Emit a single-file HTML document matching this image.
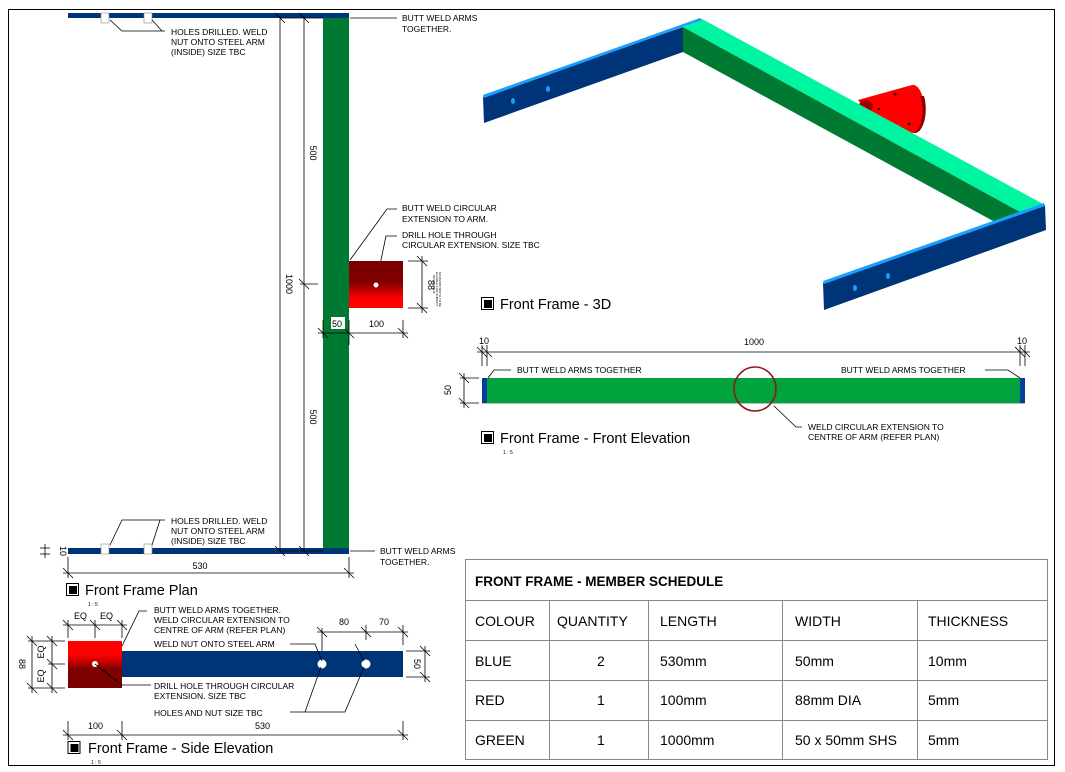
<!DOCTYPE html>
<html><head><meta charset="utf-8"><style>
html,body{margin:0;padding:0;background:#fff}
svg{display:block}
text{font-family:"Liberation Sans",Arial,sans-serif;fill:#000}
.s{font-size:8.5px}
.t{font-size:14.5px}
.d{font-size:9px}
.tb{font-size:14px}
</style></head><body>
<svg width="1065" height="772" viewBox="0 0 1065 772" xmlns="http://www.w3.org/2000/svg">
<defs>
<linearGradient id="rg1" x1="0" y1="0" x2="0" y2="1"><stop offset="0" stop-color="#7a0000"/><stop offset="0.45" stop-color="#800000"/><stop offset="0.8" stop-color="#ff0000"/><stop offset="1" stop-color="#ff0000"/></linearGradient>
<linearGradient id="rg2" x1="0" y1="0" x2="0" y2="1"><stop offset="0" stop-color="#ff0000"/><stop offset="0.3" stop-color="#ff0000"/><stop offset="0.6" stop-color="#800000"/><stop offset="1" stop-color="#7a0000"/></linearGradient>
</defs>
<rect x="8.5" y="9.5" width="1046" height="756" fill="none" stroke="#000" stroke-width="1"/>

<!-- PLAN -->
<rect x="68" y="13" width="281" height="5" fill="#003478"/>
<rect x="323" y="18" width="26" height="531" fill="#007a33"/>
<rect x="68" y="548" width="281" height="6" fill="#003478"/>
<rect x="101" y="13" width="8" height="10" fill="#fff" stroke="#888" stroke-width="0.6"/>
<rect x="144" y="13" width="8" height="10" fill="#fff" stroke="#888" stroke-width="0.6"/>
<rect x="101" y="544" width="8" height="10" fill="#fff" stroke="#888" stroke-width="0.6"/>
<rect x="144" y="544" width="8" height="10" fill="#fff" stroke="#888" stroke-width="0.6"/>
<g stroke="#000" stroke-width="0.8" fill="none">
<polyline points="110,20 122,31 165,31"/><line x1="152" y1="20" x2="162" y2="31"/>
<polyline points="110,545 122,520 165,520"/><line x1="152" y1="545" x2="160" y2="520"/>
<line x1="350" y1="18" x2="397" y2="18"/>
<line x1="350" y1="551" x2="375" y2="551"/>
<line x1="280" y1="16" x2="280" y2="551"/>
<line x1="304" y1="16" x2="304" y2="551"/>
<line x1="280" y1="18" x2="323" y2="18"/>
<line x1="280" y1="551" x2="323" y2="551"/>
<line x1="300" y1="284" x2="318" y2="284"/>
<line x1="275" y1="13" x2="285" y2="23"/><line x1="299" y1="13" x2="309" y2="23"/>
<line x1="275" y1="546" x2="285" y2="556"/><line x1="299" y1="546" x2="309" y2="556"/>
<line x1="299" y1="279" x2="309" y2="289"/>
<polyline points="350,260 387,209 397,209"/>
<polyline points="376,284 386,236 397,236"/>
<line x1="408" y1="261" x2="428" y2="261"/><line x1="408" y1="308" x2="428" y2="308"/>
<line x1="422" y1="256" x2="422" y2="313"/>
<line x1="417" y1="256" x2="427" y2="266"/><line x1="417" y1="303" x2="427" y2="313"/>
<line x1="323" y1="320" x2="323" y2="338"/><line x1="349" y1="320" x2="349" y2="345"/><line x1="403" y1="320" x2="403" y2="338"/>
<line x1="318" y1="333" x2="408" y2="333"/>
<line x1="318" y1="328" x2="328" y2="338"/><line x1="344" y1="328" x2="354" y2="338"/><line x1="398" y1="328" x2="408" y2="338"/>
<line x1="68" y1="557" x2="68" y2="578"/><line x1="349" y1="557" x2="349" y2="578"/>
<line x1="63" y1="573" x2="354" y2="573"/>
<line x1="63" y1="568" x2="73" y2="578"/><line x1="344" y1="568" x2="354" y2="578"/>
<line x1="40" y1="548" x2="50" y2="548"/><line x1="40" y1="554" x2="50" y2="554"/><line x1="45" y1="544" x2="45" y2="558"/>
</g>
<rect x="349" y="261" width="54" height="47" fill="url(#rg1)"/>
<circle cx="376" cy="285" r="2.5" fill="#fff"/>
<rect x="331" y="317" width="14" height="12" fill="#fff"/>
<text class="d" x="332" y="327">50</text>
<text class="d" x="369" y="327">100</text>
<text class="d" transform="translate(310,153) rotate(90)" text-anchor="middle">500</text>
<text class="d" transform="translate(310,417) rotate(90)" text-anchor="middle">500</text>
<text class="d" transform="translate(286,284) rotate(90)" text-anchor="middle">1000</text>
<text class="d" transform="translate(428,285) rotate(90)" text-anchor="middle">88</text>
<text style="font-size:3px" transform="translate(439,272) rotate(90)">MAXIMUM WIDTH TO BE</text>
<text style="font-size:3px" transform="translate(436,272) rotate(90)">ELIGIBLE FOR SUBSIDY</text>
<text style="font-size:3px" transform="translate(433,275) rotate(90)">DESIGN CHK</text>
<text class="d" transform="translate(60,551) rotate(90)" text-anchor="middle">10</text>
<text class="d" x="200" y="569" text-anchor="middle">530</text>
<text class="s" x="171" y="35">HOLES DRILLED. WELD</text>
<text class="s" x="171" y="45">NUT ONTO STEEL ARM</text>
<text class="s" x="171" y="55">(INSIDE) SIZE TBC</text>
<text class="s" x="171" y="524">HOLES DRILLED. WELD</text>
<text class="s" x="171" y="534">NUT ONTO STEEL ARM</text>
<text class="s" x="171" y="544">(INSIDE) SIZE TBC</text>
<text class="s" x="402" y="21">BUTT WELD ARMS</text>
<text class="s" x="402" y="32">TOGETHER.</text>
<text class="s" x="380" y="554">BUTT WELD ARMS</text>
<text class="s" x="380" y="565">TOGETHER.</text>
<text class="s" x="402" y="211">BUTT WELD CIRCULAR</text>
<text class="s" x="402" y="222">EXTENSION TO ARM.</text>
<text class="s" x="402" y="238">DRILL HOLE THROUGH</text>
<text class="s" x="402" y="248">CIRCULAR EXTENSION. SIZE TBC</text>

<g fill="none" stroke="#000" stroke-width="1">
<rect x="66.5" y="583.5" width="12" height="12"/><rect x="68" y="741.5" width="12" height="12"/>
<rect x="481.5" y="297.5" width="12" height="12"/><rect x="481.5" y="431.5" width="12" height="12"/>
</g>
<rect x="69" y="586" width="8" height="8" fill="#000"/><rect x="70.5" y="744" width="8" height="8" fill="#000"/>
<rect x="484" y="300" width="8" height="8" fill="#000"/><rect x="484" y="434" width="8" height="8" fill="#000"/>
<text class="t" x="85" y="595">Front Frame Plan</text>
<text style="font-size:5px" x="88" y="606">1 : 5</text>
<text class="t" x="88" y="753">Front Frame - Side Elevation</text>
<text style="font-size:5px" x="91" y="764">1 : 5</text>
<text class="t" x="500" y="309">Front Frame - 3D</text>
<text class="t" x="500" y="443">Front Frame - Front Elevation</text>
<text style="font-size:5px" x="503" y="454">1 : 5</text>

<!-- SIDE ELEVATION -->
<rect x="68" y="641" width="54" height="47" fill="url(#rg2)"/>
<rect x="122" y="651" width="281" height="26" fill="#003478"/>
<circle cx="95" cy="664" r="3" fill="#fff"/>
<circle cx="322" cy="664" r="4.5" fill="#fff"/><circle cx="366" cy="664" r="4.5" fill="#fff"/>
<g stroke="#000" stroke-width="0.8" fill="none">
<line x1="68" y1="620" x2="68" y2="638"/><line x1="95" y1="620" x2="95" y2="638"/><line x1="122" y1="620" x2="122" y2="638"/>
<line x1="63" y1="625" x2="127" y2="625"/>
<line x1="63" y1="620" x2="73" y2="630"/><line x1="90" y1="620" x2="100" y2="630"/><line x1="117" y1="620" x2="127" y2="630"/>
<line x1="28" y1="641" x2="65" y2="641"/><line x1="28" y1="688" x2="65" y2="688"/><line x1="48" y1="664" x2="65" y2="664"/>
<line x1="32" y1="636" x2="32" y2="693"/><line x1="52" y1="636" x2="52" y2="693"/>
<line x1="27" y1="636" x2="37" y2="646"/><line x1="27" y1="683" x2="37" y2="693"/>
<line x1="47" y1="636" x2="57" y2="646"/><line x1="47" y1="659" x2="57" y2="669"/><line x1="47" y1="683" x2="57" y2="693"/>
<polyline points="122,646 139,611 147,611"/>
<polyline points="95,664 122,685 151,685"/>
<polyline points="290,644 315,644 322,661"/><line x1="355" y1="644" x2="364" y2="661"/>
<polyline points="290,712 345,712 364,667"/><line x1="305" y1="712" x2="321" y2="667"/>
<line x1="322" y1="628" x2="322" y2="651"/><line x1="366" y1="625" x2="366" y2="640"/><line x1="403" y1="625" x2="403" y2="645"/>
<line x1="317" y1="632" x2="408" y2="632"/>
<line x1="317" y1="627" x2="327" y2="637"/><line x1="361" y1="627" x2="371" y2="637"/><line x1="398" y1="627" x2="408" y2="637"/>
<line x1="406" y1="651" x2="430" y2="651"/><line x1="406" y1="677" x2="430" y2="677"/><line x1="425" y1="646" x2="425" y2="682"/>
<line x1="420" y1="646" x2="430" y2="656"/><line x1="420" y1="672" x2="430" y2="682"/>
<line x1="68" y1="721" x2="68" y2="740"/><line x1="122" y1="721" x2="122" y2="740"/><line x1="403" y1="721" x2="403" y2="740"/>
<line x1="63" y1="735" x2="408" y2="735"/>
<line x1="63" y1="730" x2="73" y2="740"/><line x1="117" y1="730" x2="127" y2="740"/><line x1="398" y1="730" x2="408" y2="740"/>
</g>
<text class="d" x="74" y="619">EQ</text><text class="d" x="100" y="619">EQ</text>
<text class="d" transform="translate(44,652) rotate(-90)" text-anchor="middle">EQ</text>
<text class="d" transform="translate(44,676) rotate(-90)" text-anchor="middle">EQ</text>
<text class="d" transform="translate(19,664) rotate(90)" text-anchor="middle">88</text>
<text class="d" transform="translate(414,664) rotate(90)" text-anchor="middle">50</text>
<text class="d" x="339" y="625">80</text><text class="d" x="379" y="625">70</text>
<text class="d" x="88" y="729">100</text><text class="d" x="255" y="729">530</text>
<text class="s" x="154" y="613">BUTT WELD ARMS TOGETHER.</text>
<text class="s" x="154" y="623">WELD CIRCULAR EXTENSION TO</text>
<text class="s" x="154" y="633">CENTRE OF ARM (REFER PLAN)</text>
<text class="s" x="154" y="647">WELD NUT ONTO STEEL ARM</text>
<text class="s" x="154" y="689">DRILL HOLE THROUGH CIRCULAR</text>
<text class="s" x="154" y="699">EXTENSION. SIZE TBC</text>
<text class="s" x="154" y="716">HOLES AND NUT SIZE TBC</text>

<!-- 3D -->
<path d="M858,100 L912,85 A11,24 0 0 1 914,133 L880,128 Z" fill="#ff0000"/>
<path d="M924,96 A11,24 0 0 1 914,133 L910,132 A10,22 0 0 0 920,96 Z" fill="#8a0000"/>
<ellipse cx="866" cy="106" rx="7" ry="6" fill="#a00000"/>
<circle cx="895" cy="94" r="1.5" fill="#400"/><circle cx="909" cy="124" r="1.3" fill="#400"/>
<circle cx="879" cy="109" r="1.2" fill="#400"/>
<polygon points="683,27 702,19 1045,205 1020,212" fill="#00f5a0"/>
<polygon points="683,27 1020,212 995,222 683,52" fill="#007a33"/>
<polygon points="483,97 683,27 683,52 484,123" fill="#003478"/>
<polygon points="483,95 700,18 702,20 484,98" fill="#1a9fff"/>
<polygon points="823,283 1045,205 1046,230 824,310" fill="#003478"/>
<polygon points="823,281 1044,203 1045,206 824,284" fill="#1a9fff"/>
<ellipse cx="513" cy="101" rx="2" ry="3" fill="#1a9fff"/><ellipse cx="548" cy="89" rx="2" ry="3" fill="#1a9fff"/>
<ellipse cx="855" cy="288" rx="2" ry="3" fill="#1a9fff"/><ellipse cx="888" cy="276" rx="2" ry="3" fill="#1a9fff"/>

<!-- FRONT ELEVATION -->
<rect x="482" y="378" width="543" height="25" fill="#00a33e"/>
<rect x="482" y="378" width="5" height="25" fill="#003f9a"/>
<rect x="1020" y="378" width="5" height="25" fill="#003f9a"/>
<line x1="482" y1="403.5" x2="1025" y2="403.5" stroke="#bbb" stroke-width="1"/>
<ellipse cx="755" cy="389" rx="21" ry="22" fill="none" stroke="#8b1a1a" stroke-width="1.6"/>
<g stroke="#000" stroke-width="0.8" fill="none">
<line x1="482" y1="345" x2="482" y2="366"/><line x1="487" y1="345" x2="487" y2="366"/>
<line x1="1020" y1="345" x2="1020" y2="366"/><line x1="1025" y1="345" x2="1025" y2="366"/>
<line x1="477" y1="352" x2="1030" y2="352"/>
<line x1="477" y1="347" x2="487" y2="357"/><line x1="482" y1="347" x2="492" y2="357"/>
<line x1="1015" y1="347" x2="1025" y2="357"/><line x1="1020" y1="347" x2="1030" y2="357"/>
<polyline points="488,378 494,370 511,370"/>
<polyline points="985,370 1008,370 1020,378"/>
<polyline points="774,406 796,427 802,427"/>
<line x1="460" y1="378" x2="479" y2="378"/><line x1="460" y1="403" x2="479" y2="403"/><line x1="464" y1="373" x2="464" y2="408"/>
<line x1="459" y1="373" x2="469" y2="383"/><line x1="459" y1="398" x2="469" y2="408"/>
</g>
<text class="d" x="479" y="344">10</text><text class="d" x="1017" y="344">10</text>
<text class="d" x="744" y="345">1000</text>
<text class="d" transform="translate(451,390) rotate(-90)" text-anchor="middle">50</text>
<text class="s" x="517" y="373">BUTT WELD ARMS TOGETHER</text>
<text class="s" x="841" y="373">BUTT WELD ARMS TOGETHER</text>
<text class="s" x="808" y="430">WELD CIRCULAR EXTENSION TO</text>
<text class="s" x="808" y="440">CENTRE OF ARM (REFER PLAN)</text>

<!-- TABLE -->
<g stroke="#888" stroke-width="1" fill="none">
<rect x="465.5" y="559.5" width="582" height="200"/>
<line x1="465" y1="600.5" x2="1048" y2="600.5"/>
<line x1="465" y1="640.5" x2="1048" y2="640.5"/>
<line x1="465" y1="680.5" x2="1048" y2="680.5"/>
<line x1="465" y1="720.5" x2="1048" y2="720.5"/>
<line x1="549.5" y1="600" x2="549.5" y2="760"/>
<line x1="648.5" y1="600" x2="648.5" y2="760"/>
<line x1="782.5" y1="600" x2="782.5" y2="760"/>
<line x1="917.5" y1="600" x2="917.5" y2="760"/>
</g>
<text x="475" y="586" style="font-size:13.5px;font-weight:bold">FRONT FRAME  -  MEMBER SCHEDULE</text>
<text class="tb" x="475" y="626">COLOUR</text><text class="tb" x="557" y="626">QUANTITY</text><text class="tb" x="660" y="626">LENGTH</text><text class="tb" x="795" y="626">WIDTH</text><text class="tb" x="928" y="626">THICKNESS</text>
<text class="tb" x="475" y="666">BLUE</text><text class="tb" x="597" y="666">2</text><text class="tb" x="660" y="666">530mm</text><text class="tb" x="795" y="666">50mm</text><text class="tb" x="928" y="666">10mm</text>
<text class="tb" x="475" y="705">RED</text><text class="tb" x="597" y="705">1</text><text class="tb" x="660" y="705">100mm</text><text class="tb" x="795" y="705">88mm DIA</text><text class="tb" x="928" y="705">5mm</text>
<text class="tb" x="475" y="745">GREEN</text><text class="tb" x="597" y="745">1</text><text class="tb" x="660" y="745">1000mm</text><text class="tb" x="795" y="745">50 x 50mm SHS</text><text class="tb" x="928" y="745">5mm</text>
</svg>
</body></html>
